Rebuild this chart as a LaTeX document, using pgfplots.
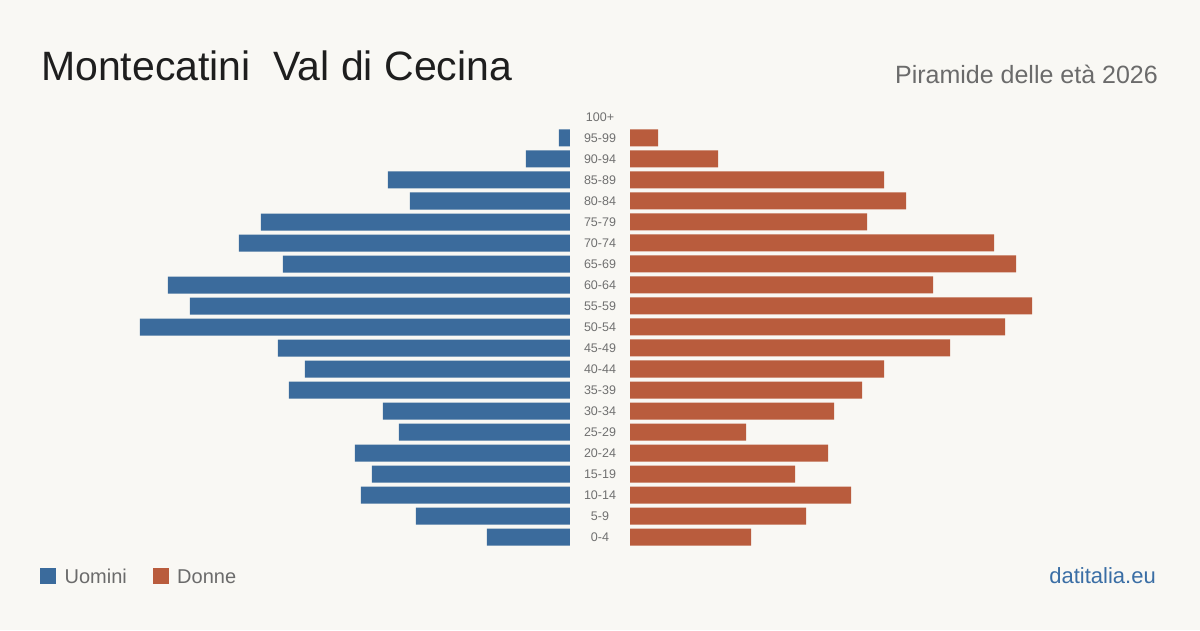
\documentclass[border=0pt]{standalone}
\usepackage{pgfplots}
\pgfplotsset{compat=1.18}
\usepackage{fontspec}
\setmainfont{Liberation Sans}
\definecolor{bg}{HTML}{F9F8F4}
\definecolor{mblue}{HTML}{3B6B9C}
\definecolor{forange}{HTML}{B95C3D}
\definecolor{txtgrey}{HTML}{6B6B6B}
\definecolor{lblgrey}{HTML}{707070}
\definecolor{linkblue}{HTML}{3A6EA5}
\definecolor{titleblack}{HTML}{1E1E1E}
\pgfplotstableread{
idx m f
0 83 121
1 154 176
2 209 221
3 198 165
4 215 198
5 171 116
6 187 204
7 281 232
8 265 254
9 292 320
10 430 375
11 380 402
12 402 303
13 287 386
14 331 364
15 309 237
16 160 276
17 182 254
18 44 88
19 11 28
}\pyr
\begin{document}
\begin{tikzpicture}[x=1pt,y=1pt]
\fill[bg] (0,0) rectangle (1200,630);
\node[anchor=base west, inner sep=0, text=titleblack, font=\fontsize{41}{44}\selectfont] at (41,549) {Montecatini\ \ Val di Cecina};
\node[anchor=base east, inner sep=0, text=txtgrey, font=\fontsize{25}{28}\selectfont] at (1158,546) {Piramide delle età 2026};
\node[anchor=base east, inner sep=0, text=linkblue, font=\fontsize{22}{26}\selectfont] at (1156,47) {datitalia.eu};
\begin{axis}[
  at={(100pt,82.5pt)}, anchor=south west,
  width=470pt, height=441pt, scale only axis,
  xmin=0, xmax=470, x dir=reverse,
  ymin=-0.5, ymax=20.5,
  xbar, bar width=17pt, bar shift=0pt,
  axis line style={draw=none},
  xtick=\empty, ytick=\empty,
  clip=false,
  legend columns=2,
  legend style={at={(-0.1340,-0.0647)}, anchor=west, draw=none, fill=none,
    font=\fontsize{20}{22}\selectfont, text=txtgrey,
    /tikz/every even column/.append style={column sep=26pt},
    nodes={inner sep=0pt, text depth=0pt, text height=14pt}},
]
\addplot[fill=mblue, draw=none, forget plot] table[x=m, y=idx] {\pyr};
\addlegendimage{legend image code/.code={\fill[mblue] (0pt,-7.5pt) rectangle (15pt,7.5pt);}}
\addlegendentry{\hspace{9pt}Uomini}
\addlegendimage{legend image code/.code={\fill[forange] (0pt,-7.5pt) rectangle (15pt,7.5pt);}}
\addlegendentry{\hspace{9pt}Donne}
\end{axis}
\begin{axis}[
  at={(630pt,82.5pt)}, anchor=south west,
  width=470pt, height=441pt, scale only axis,
  xmin=0, xmax=470,
  ymin=-0.5, ymax=20.5,
  xbar, bar width=17pt, bar shift=0pt,
  axis line style={draw=none},
  xtick=\empty,
  ytick={0,...,20},
  yticklabels={0-4,5-9,10-14,15-19,20-24,25-29,30-34,35-39,40-44,45-49,50-54,55-59,60-64,65-69,70-74,75-79,80-84,85-89,90-94,95-99,100+},
  major tick length=0pt,
  yticklabel style={anchor=center, xshift=-30pt, text=lblgrey, font=\fontsize{12.5}{14}\selectfont},
  clip=false,
]
\addplot[fill=forange, draw=none] table[x=f, y=idx] {\pyr};
\end{axis}
\end{tikzpicture}
\end{document}
